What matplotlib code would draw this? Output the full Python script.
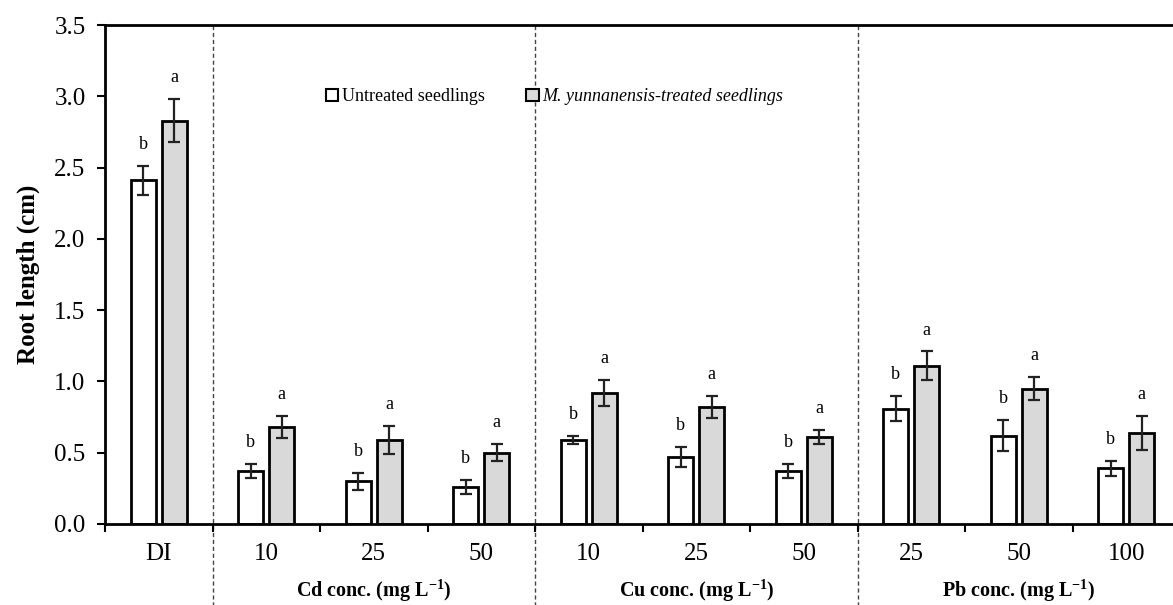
import numpy as np
import matplotlib.pyplot as plt
from matplotlib.patches import Patch

plt.rcParams['font.family'] = ['Liberation Serif', 'DejaVu Serif']
plt.rcParams['mathtext.fontset'] = 'custom'
plt.rcParams['mathtext.rm'] = 'Liberation Serif'
plt.rcParams['mathtext.bf'] = 'Liberation Serif:bold'

# data
tick_labels = ['DI', '10', '25', '50', '10', '25', '50', '25', '50', '100']
untreated = [2.41, 0.37, 0.30, 0.26, 0.59, 0.47, 0.37, 0.81, 0.62, 0.39]
untreated_err = [0.10, 0.05, 0.06, 0.05, 0.03, 0.07, 0.05, 0.09, 0.11, 0.05]
treated = [2.83, 0.68, 0.59, 0.50, 0.92, 0.82, 0.61, 1.11, 0.95, 0.64]
treated_err = [0.15, 0.08, 0.10, 0.06, 0.09, 0.08, 0.05, 0.10, 0.08, 0.12]
letters_untreated = ['b'] * 10
letters_treated = ['a'] * 10
group_names = ['Cd conc. (mg L$^{\\mathbf{-1}}$)', 'Cu conc. (mg L$^{\\mathbf{-1}}$)',
               'Pb conc. (mg L$^{\\mathbf{-1}}$)']
group_spans = [(1, 4), (4, 7), (7, 10)]  # boundaries in category units

W, H = 1173, 605
fig = plt.figure(figsize=(W / 100, H / 100), dpi=100)
ax = fig.add_axes([105 / W, 1 - 524 / H, (1180 - 105) / W, (524 - 25) / H])

x = np.arange(len(tick_labels)) + 0.5
bw = 0.233
off = 0.144
err_kw = dict(ecolor='#222222', elinewidth=1.6, capsize=4, capthick=1.6)
ax.bar(x - off, untreated, bw, yerr=untreated_err, color='white',
       edgecolor='black', linewidth=2, error_kw=err_kw, zorder=2)
ax.bar(x + off, treated, bw, yerr=treated_err, color='#d9d9d9',
       edgecolor='black', linewidth=2, error_kw=err_kw, zorder=2)

for xi, v, e, t in zip(x - off, untreated, untreated_err, letters_untreated):
    ax.text(xi, v + e + 0.09, t, ha='center', va='bottom', fontsize=13)
for xi, v, e, t in zip(x + off, treated, treated_err, letters_treated):
    ax.text(xi, v + e + 0.09, t, ha='center', va='bottom', fontsize=13)

ax.set_xlim(0, 10)
ax.set_ylim(0, 3.5)
yt = np.arange(0, 3.51, 0.5)
ax.set_yticks(yt)
ax.set_yticklabels([f'{v:.1f}' for v in yt], fontsize=18)
ax.set_xticks(np.arange(0, 11))
ax.set_xticklabels([])
ax.set_xticks(x, minor=True)
ax.set_xticklabels(tick_labels, minor=True, fontsize=18)
ax.tick_params(axis='x', which='minor', length=0, pad=14)
ax.tick_params(axis='x', which='major', direction='out', length=6, width=1.5)
ax.tick_params(axis='y', direction='out', length=6, width=1.5, pad=8)
for s in ['left', 'bottom', 'top']:
    ax.spines[s].set_linewidth(2)
ax.spines['right'].set_visible(False)

for b in [1, 4, 7]:
    ax.axvline(b, ymin=-0.17, ymax=1, color='#444444', lw=1,
               linestyle=(0, (3, 2)), clip_on=False, zorder=1)

for name, (a, b) in zip(group_names, group_spans):
    ax.text((a + b) / 2, -0.133, name, transform=ax.get_xaxis_transform(),
            ha='center', va='center', fontsize=14.5, fontweight='bold')

ax.set_ylabel('Root length (cm)', fontsize=18, fontweight='bold', labelpad=10)

handles = [Patch(facecolor='white', edgecolor='black', linewidth=1.5),
           Patch(facecolor='#d9d9d9', edgecolor='black', linewidth=1.5)]
leg = ax.legend(handles, ['Untreated seedlings', 'M. yunnanensis-treated seedlings'],
                ncol=2, frameon=False, loc='center left', bbox_to_anchor=(0.19, 0.856),
                fontsize=13, handlelength=0.7, handleheight=0.7, handletextpad=0.2,
                columnspacing=2.3)
leg.get_texts()[1].set_fontstyle('italic')

fig.savefig('out.png', dpi=100)
